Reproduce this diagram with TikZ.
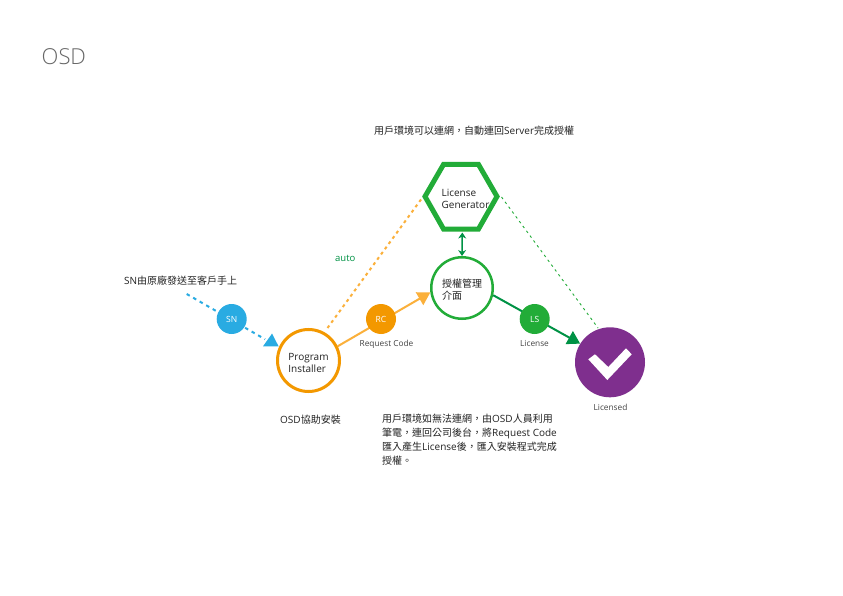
\documentclass[tikz,border=0pt]{standalone}
\usepackage{fontspec}
\setmainfont{Open Sans}
\newfontfamily\cjk{Noto Sans CJK TC}
\newfontfamily\lightfont{Open Sans Light}
\usetikzlibrary{arrows.meta,calc}
\definecolor{cblue}{HTML}{29ABE2}
\definecolor{corange}{HTML}{F39800}
\definecolor{cyellow}{HTML}{FBB03B}
\definecolor{cgreen}{HTML}{22AC38}
\definecolor{cdark}{HTML}{009245}
\definecolor{cpurple}{HTML}{7F2F8E}
\definecolor{ctext}{HTML}{222222}
\tikzset{
  x=1pt,y=-1pt,
  ring/.style={circle,draw=#1,fill=white,inner sep=0pt},
  ringtext/.style={inner sep=0pt,text=ctext,align=left,font=\fontsize{10}{12}\selectfont},
  badge/.style={circle,fill=#1,inner sep=0pt,minimum size=30pt,text=white,font=\fontsize{8.5}{9}\selectfont},
  lbl/.style={inner sep=0pt,text=ctext,align=left,font=\fontsize{10}{14}\cjk},
  sublbl/.style={inner sep=0pt,text=ctext!85,font=\fontsize{8.3}{10}\selectfont},
  head/.style={-{Triangle[length=12.5pt,width=14.5pt]}},
}
\begin{document}
\begin{tikzpicture}
\useasboundingbox[fill=white] (0,0) rectangle (843,596);
\node[anchor=west,inner sep=0pt,text=black!60,font=\fontsize{22}{26}\lightfont] (title) at (41.5,57) {OSD};
% hexagon
\draw[cgreen,line width=5pt,fill=white,miter limit=10] (425,196.5) -- (443.5,164.5) -- (478.5,164.5) -- (497,196.5) -- (478.5,229) -- (443.5,229) -- cycle;
\coordinate (lgw) at (421,199.5);
\coordinate (lge) at (501.5,197);
\coordinate (lgs) at (462.3,232.5);
\node[ringtext] (lg) at (465.5,198.5) {License\\Generator};
% circles
\node[ring=corange,line width=3pt,minimum size=62pt] (pi) at (308.5,360.5) {};
\node[ringtext] (pit) at (308.5,362.5) {Program\\Installer};
\node[ring=cgreen,line width=2.5pt,minimum size=61.5pt] (mg) at (462,288) {};
\node[ringtext] (mgt) at (462,290) {{\cjk 授權管理}\\{\cjk 介面}};
\node[circle,fill=cpurple,inner sep=0pt,minimum size=70pt] (lic) at (610,362.3) {};
\fill[white] (588.3,359.3) -- (595,354.3) -- (608.3,367) -- (626,348.3) -- (631.7,354.3) -- (607.3,380) -- cycle;
% connectors
\coordinate (snstart) at (186.7,294);
\coordinate (pie) at (327.5,328);
\coordinate (licn) at (598,328);
\draw[cblue,line width=2pt,dash pattern=on 3.5pt off 4pt] (snstart) -- ($(pi.155)+(-14,-7.5)$);
\fill[cblue] (pi.155) ++(-0.5,-0.5) -- ++(-15.5,0) -- ++(9,-12.7) -- cycle;
\draw[cyellow,line width=2pt,dash pattern=on 3pt off 3.5pt] (pie) -- (lgw);
\draw[cgreen,line width=0.9pt,dash pattern=on 2.5pt off 3.5pt] (lge) -- (licn);
\draw[cyellow,line width=2pt,head] (pi.26) -- (mg.188);
\draw[cdark,line width=2pt,head] (mg.-13) -- (lic.148);
\draw[cdark,line width=1.5pt,{Stealth[length=6pt,width=8pt]}-{Stealth[length=6pt,width=8pt]}] (lgs) -- (mg.north);
% badges
\node[badge=cblue] (sn) at (231.7,319) {SN};
\node[badge=corange] (rc) at (381,319) {RC};
\node[badge=cgreen] (ls) at (534.7,319) {LS};
% labels
\node[sublbl,anchor=center] (rq) at (386.5,344.5) {Request Code};
\node[sublbl,anchor=center] (lt) at (534.5,343.5) {License};
\node[sublbl,anchor=center] (ld) at (610.5,407) {Licensed};
\node[inner sep=0pt,anchor=west,text=cdark,font=\fontsize{9.5}{11}\selectfont] (auto) at (335,258.5) {auto};
\node[lbl,anchor=west] (t1) at (374,130.5) {用戶環境可以連網，自動連回{\fontspec{Open Sans}Server}完成授權};
\node[lbl,anchor=west] (t2) at (124,281) {{\fontspec{Open Sans}SN}由原廠發送至客戶手上};
\node[lbl,anchor=west] (t3) at (280,419.5) {{\fontspec{Open Sans}OSD}協助安裝};
\node[lbl,anchor=north west] (t4) at (382,414) {用戶環境如無法連網，由{\fontspec{Open Sans}OSD}人員利用\\筆電，連回公司後台，將{\fontspec{Open Sans}Request Code}\\匯入產生{\fontspec{Open Sans}License}後，匯入安裝程式完成\\授權。};
\end{tikzpicture}
\end{document}
